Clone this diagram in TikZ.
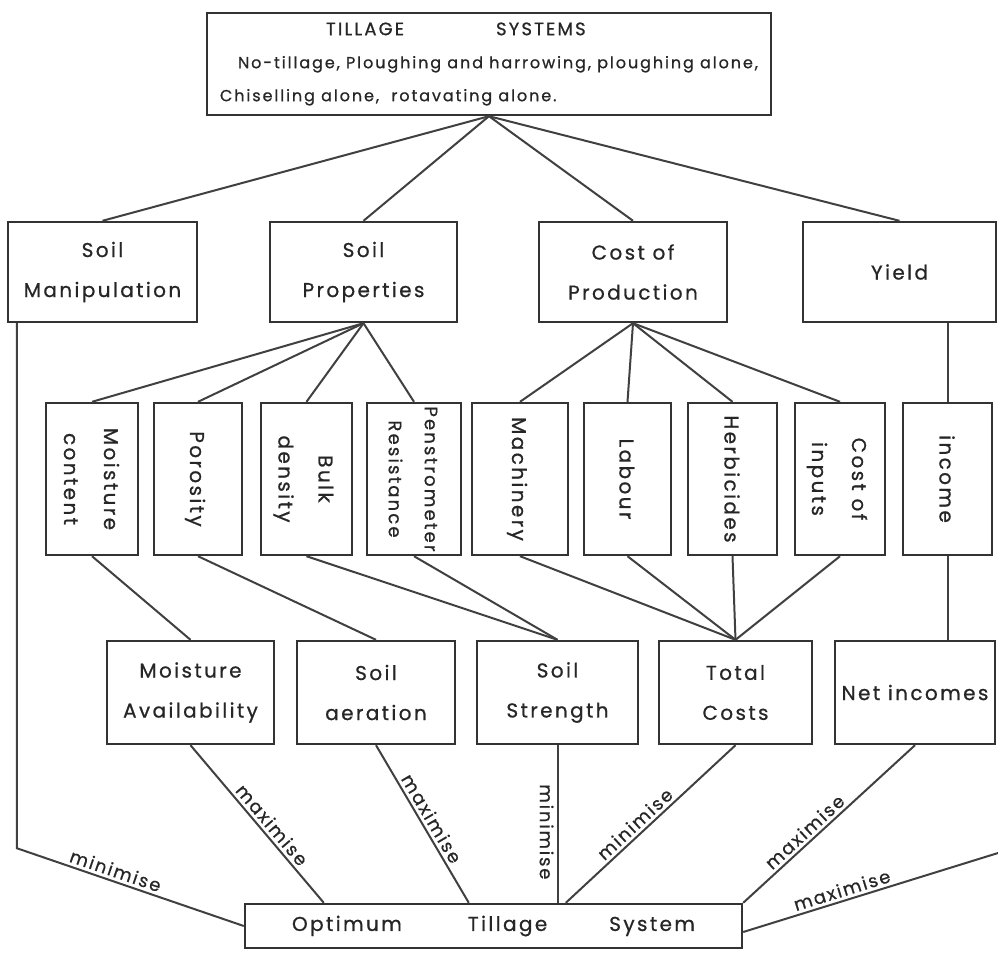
\documentclass[tikz,border=0pt]{standalone}
\usepackage{fontspec}
\setmainfont{Poppins}[LetterSpace=12, FakeBold=0.8]
\newfontfamily\lblfont{Poppins}[LetterSpace=10, FakeBold=0.6]
\usetikzlibrary{calc}

\tikzset{
    box/.style={draw=black!80, line width=2.4pt, inner sep=0pt, align=center, text=black!85,
        font=\fontsize{20}{40}\selectfont},
    link/.style={draw=black!75, line width=2pt},
    lbl/.style={font=\lblfont\fontsize{18}{20}\selectfont, text=black!85, inner sep=3pt}
}
\newcommand{\vtext}[1]{\rotatebox{-90}{\begin{tabular}{@{}c@{}}#1\end{tabular}}}

\begin{document}
\begin{tikzpicture}[x=1pt,y=-1pt]
    \useasboundingbox (0,0) rectangle (998,956);

    \node[box, minimum width=564, minimum height=102, align=left, font=\fontsize{16}{33}\selectfont] (tillage) at (489,64)
        {\hspace*{106pt}{\fontsize{18}{33}\selectfont TILLAGE\hspace{92pt}SYSTEMS}\\ \hspace*{18pt}No-tillage, Ploughing and harrowing, ploughing alone,\\Chiselling alone,\ \ rotavating alone.};

    \node[box, minimum width=189, minimum height=100] (soilman) at (102.5,272) {Soil\\Manipulation};
    \node[box, minimum width=187, minimum height=100] (soilprop) at (363.5,272) {Soil\\Properties};
    \node[box, minimum width=188, minimum height=100] (costprod) at (633,272) {Cost of\\Production};
    \node[box, minimum width=193, minimum height=100] (yield) at (899.5,272) {Yield};

    \draw[link] (tillage.south) -- (soilman.north);
    \draw[link] (tillage.south) -- (soilprop.north);
    \draw[link] (tillage.south) -- (costprod.north);
    \draw[link] (tillage.south) -- (yield.north);

    \node[box, minimum width=92, minimum height=152] (moist) at (92,479) {\vtext{Moisture\\content}};
    \node[box, minimum width=88, minimum height=152] (poros) at (198,479) {\vtext{Porosity}};
    \node[box, minimum width=91, minimum height=152] (bulk) at (306.5,479) {\vtext{Bulk\\density}};
    \node[box, minimum width=94, minimum height=152, font=\fontsize{18}{36}\selectfont] (penet) at (414,479) {\vtext{Penstrometer\\Resistance}};
    \node[box, minimum width=96, minimum height=152] (mach) at (520,479) {\vtext{Machinery}};
    \node[box, minimum width=87, minimum height=152] (labour) at (627.5,479) {\vtext{Labour}};
    \node[box, minimum width=89, minimum height=152] (herb) at (732.5,479) {\vtext{Herbicides}};
    \node[box, minimum width=90, minimum height=152] (inputs) at (840,479) {\vtext{Cost of\\inputs}};
    \node[box, minimum width=89, minimum height=152] (income) at (947.5,479) {\vtext{income}};

    \draw[link] (soilprop.south) -- (moist.north);
    \draw[link] (soilprop.south) -- (poros.north);
    \draw[link] (soilprop.south) -- (bulk.north);
    \draw[link] (soilprop.south) -- (penet.north);
    \draw[link] (costprod.south) -- (mach.north);
    \draw[link] (costprod.south) -- (labour.north);
    \draw[link] (costprod.south) -- (herb.north);
    \draw[link] (costprod.south) -- (inputs.north);
    \draw[link] (income.north) -- (income.north |- yield.south);

    \node[box, minimum width=167, minimum height=103] (moistav) at (190.5,692.5) {Moisture\\Availability};
    \node[box, minimum width=158, minimum height=103] (aeration) at (376,692.5) {Soil\\aeration};
    \node[box, minimum width=161, minimum height=103] (strength) at (557.5,692.5) {Soil\\Strength};
    \node[box, minimum width=153, minimum height=103] (costs) at (735.5,692.5) {Total\\Costs};
    \node[box, minimum width=160, minimum height=103] (netinc) at (915,692.5) {Net incomes};

    \draw[link] (moist.south) -- (moistav.north);
    \draw[link] (poros.south) -- (aeration.north);
    \draw[link] (bulk.south) -- (strength.north);
    \draw[link] (penet.south) -- (strength.north);
    \draw[link] (mach.south) -- (costs.north);
    \draw[link] (labour.south) -- (costs.north);
    \draw[link] (herb.south) -- (costs.north);
    \draw[link] (inputs.south) -- (costs.north);
    \draw[link] (income.south) -- (income.south |- netinc.north);

    \node[box, minimum width=497, minimum height=44] (optimum) at (493.5,926) {Optimum\hspace{66pt}Tillage\hspace{62pt}System};

    % criteria
    \coordinate (smbend) at ($(soilman.south west)+(10,525)$);
    \coordinate (edge) at (998,853);
    \draw[link] ([xshift=10]soilman.south west) -- (smbend) -- node[pos=0.42, sloped, above, lbl] {minimise} (optimum.west);
    \draw[link] (moistav.south) -- node[pos=0.55, sloped, above, lbl] {maximise} ([xshift=80]optimum.north west);
    \draw[link] (aeration.south) -- node[pos=0.5, sloped, above, lbl] {maximise} ([xshift=225]optimum.north west);
    \draw[link] (strength.south) -- node[pos=0.55, rotate=-90, anchor=north, lbl] {minimise} (strength.south |- optimum.north);
    \draw[link] (costs.south) -- node[pos=0.55, sloped, above, lbl] {minimise} ([xshift=322]optimum.north west);
    \draw[link] (netinc.south) -- node[pos=0.6, sloped, above, lbl] {maximise} (optimum.north east);
    \draw[link] ([yshift=-6]optimum.east) -- node[pos=0.4, sloped, above, lbl] {maximise} (edge);
\end{tikzpicture}
\end{document}
